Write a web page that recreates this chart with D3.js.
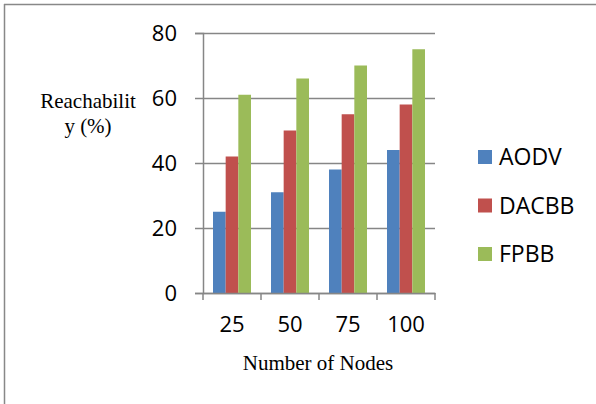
<!DOCTYPE html>
<html>
<head>
    <script src="https://d3js.org/d3.v7.min.js"></script>
    <style>
        body { margin: 0; background: #fff; }
        .tick text { font-family: "Open Sans", sans-serif; font-size: 22px; fill: #000; }
        .legend text { font-family: "Open Sans", sans-serif; font-size: 23px; fill: #000; }
        .title { font-family: "Liberation Serif", "Times New Roman", serif; font-size: 21px; fill: #000; }
    </style>
</head>
<body>
    <svg width="596" height="404"></svg>
    <script>
        // chart data
        const nodes = ["25", "50", "75", "100"];
        const seriesNames = ["AODV", "DACBB", "FPBB"];
        const aodv = [25, 31, 38, 44];
        const dacbb = [42, 50, 55, 58];
        const fpbb = [61, 66, 70, 75];
        const yTicks = [0, 20, 40, 60, 80];
        const colors = ["#4F81BD", "#C0504D", "#9BBB59"];

        const values = [aodv, dacbb, fpbb];

        const svg = d3.select("svg");
        const plotLeft = 203, plotRight = 435, plotTop = 33, plotBottom = 293;

        // frame (only top and left edges show in the original)
        svg.append("line").attr("x1", 4).attr("x2", 596).attr("y1", 4.5).attr("y2", 4.5)
            .attr("stroke", "#888").attr("stroke-width", 1.5);
        svg.append("line").attr("x1", 4.5).attr("x2", 4.5).attr("y1", 4).attr("y2", 404)
            .attr("stroke", "#888").attr("stroke-width", 1.5);

        const x0 = d3.scaleBand().domain(nodes).range([plotLeft, plotRight])
            .paddingInner(20 / 58).paddingOuter(10 / 58);
        const x1 = d3.scaleBand().domain(seriesNames).range([0, x0.bandwidth()]);
        const y = d3.scaleLinear().domain([0, 80]).range([plotBottom, plotTop]);

        // gridlines + y axis
        const yAxis = svg.append("g")
            .attr("transform", `translate(${plotLeft},0)`)
            .call(d3.axisLeft(y).tickValues(yTicks).tickSize(8).tickPadding(18)
                .tickFormat(d3.format("d")));
        yAxis.select(".domain").attr("stroke", "#868686").attr("stroke-width", 1.5);
        yAxis.selectAll(".tick line").attr("stroke", "#868686").attr("stroke-width", 1.5)
            .attr("x1", -8).attr("x2", plotRight - plotLeft);
        yAxis.selectAll(".tick text").attr("dy", "0.36em");

        // bars
        const groups = svg.append("g").selectAll("g")
            .data(nodes)
            .join("g")
            .attr("transform", d => `translate(${x0(d)},0)`);
        groups.selectAll("rect")
            .data((d, i) => seriesNames.map((s, j) => ({ s, v: values[j][i], c: colors[j] })))
            .join("rect")
            .attr("x", d => x1(d.s))
            .attr("width", x1.bandwidth())
            .attr("y", d => y(d.v))
            .attr("height", d => y(0) - y(d.v))
            .attr("fill", d => d.c);

        // x axis
        const xAxis = svg.append("g")
            .attr("transform", `translate(0,${plotBottom})`)
            .call(d3.axisBottom(x0).tickSize(0).tickPadding(23));
        xAxis.select(".domain").attr("stroke", "#868686").attr("stroke-width", 1.5);
        // category boundary ticks
        const edges = d3.range(nodes.length + 1).map(i => plotLeft + i * x0.step());
        xAxis.selectAll(".edge").data(edges).join("line")
            .attr("class", "edge")
            .attr("x1", d => d).attr("x2", d => d).attr("y1", 0).attr("y2", 7)
            .attr("stroke", "#868686").attr("stroke-width", 1.5);

        // axis titles
        svg.append("text").attr("class", "title").attr("x", 88).attr("y", 108)
            .attr("text-anchor", "middle").text("Reachabilit");
        svg.append("text").attr("class", "title").attr("x", 88).attr("y", 133)
            .attr("text-anchor", "middle").text("y (%)");
        svg.append("text").attr("class", "title").attr("x", 318).attr("y", 370)
            .attr("text-anchor", "middle").text("Number of Nodes");

        // legend
        const legend = svg.append("g").attr("class", "legend")
            .selectAll("g").data(seriesNames).join("g")
            .attr("transform", (d, i) => `translate(478,${150 + i * 48.5})`);
        legend.append("rect").attr("width", 14).attr("height", 14)
            .attr("fill", (d, i) => colors[i]);
        legend.append("text").attr("x", 21).attr("y", 7).attr("dy", "0.36em").text(d => d);
    </script>
</body>
</html>
